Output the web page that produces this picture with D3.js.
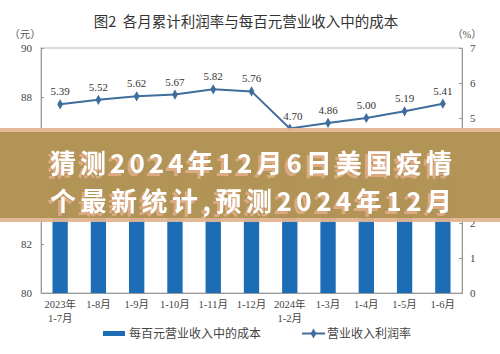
<!DOCTYPE html>
<html>
<head>
<meta charset="utf-8">
<script src="https://cdn.jsdelivr.net/npm/d3@7"></script>
<style>
  body { margin: 0; background: #fff; }
  svg { display: block; }
</style>
</head>
<body>
<div id="chart"></div>
<script>
// categories (two-line labels) and the two series
let categories = ["2023年|1-7月", "1-8月", "1-9月", "1-10月", "1-11月", "1-12月", "2024年|1-2月", "1-3月", "1-4月", "1-5月", "1-6月"]
let costValues = [85.31, 85.26, 85.22, 85.20, 85.18, 84.99, 85.11, 85.41, 85.42, 85.41, 85.31]
let profitRates = [5.39, 5.52, 5.62, 5.67, 5.82, 5.76, 4.70, 4.86, 5.00, 5.19, 5.41]
let leftTicks = [80, 82, 84, 86, 88, 90]
let rightTicks = [0, 1, 2, 3, 4, 5, 6, 7]

let titleText = "图2\u00a0\u00a0各月累计利润率与每百元营业收入中的成本"
let barName = "每百元营业收入中的成本"
let lineName = "营业收入利润率"
let bannerLines = ["猜测2024年12月6日美国疫情", "个最新统计,预测2024年12月"]

let width = 500
let height = 354
let plot = {left: 41, right: 462, top: 48, bottom: 293}

let serif = "'Liberation Serif', 'DejaVu Serif', 'Noto Sans CJK SC', serif"
let cjk = "'Noto Sans CJK SC', sans-serif"
let barColor = "#1c6db5"
let lineColor = "#3f6d9c"

let svg = d3.select("#chart").append("svg")
    .attr("width", width)
    .attr("height", height)

// salmon halo behind the banner text
let defs = svg.append("defs")
let halo = defs.append("filter").attr("id", "halo")
    .attr("x", "-10%").attr("y", "-30%").attr("width", "120%").attr("height", "160%")
halo.append("feDropShadow")
    .attr("dx", -3).attr("dy", 3).attr("stdDeviation", 0.6)
    .attr("flood-color", "#e4ae8a").attr("flood-opacity", 0.85)

let x = d3.scaleBand()
    .domain(categories)
    .range([plot.left, plot.right])
    .paddingInner(0.6)
    .paddingOuter(0.3)

let yLeft = d3.scaleLinear().domain([80, 90]).range([plot.bottom, plot.top])
let yRight = d3.scaleLinear().domain([0, 7]).range([plot.bottom, plot.top])

// title
svg.append("text")
    .attr("x", 246).attr("y", 27)
    .attr("text-anchor", "middle")
    .style("font-family", cjk)
    .style("font-size", "14.5px")
    .attr("fill", "#333")
    .text(titleText)

// unit labels
svg.append("text").attr("x", 25).attr("y", 38).attr("text-anchor", "middle")
    .style("font-family", serif).style("font-size", "10.5px").attr("fill", "#555").text("（元）")
svg.append("text").attr("x", 467).attr("y", 38).attr("text-anchor", "middle")
    .style("font-family", serif).style("font-size", "10.5px").attr("fill", "#555").text("（%）")

// frame
svg.append("rect")
    .attr("x", plot.left).attr("y", plot.top)
    .attr("width", plot.right - plot.left)
    .attr("height", plot.bottom - plot.top)
    .attr("fill", "none")
    .attr("stroke", "#b8b8b8")
    .attr("stroke-width", 1)

// left axis
let leftAxis = svg.append("g")
    .attr("transform", `translate(${plot.left},0)`)
    .call(d3.axisLeft(yLeft).tickValues(leftTicks).tickFormat(d3.format("d")).tickSize(-3).tickPadding(9))
leftAxis.select(".domain").attr("stroke", "#999")
leftAxis.selectAll(".tick line").attr("stroke", "#999")
leftAxis.selectAll("text").style("font-family", serif).style("font-size", "11px").attr("fill", "#444")

// right axis
let rightAxis = svg.append("g")
    .attr("transform", `translate(${plot.right},0)`)
    .call(d3.axisRight(yRight).tickValues(rightTicks).tickFormat(d3.format("d")).tickSize(-3).tickPadding(8))
rightAxis.select(".domain").attr("stroke", "#999")
rightAxis.selectAll(".tick line").attr("stroke", "#999")
rightAxis.selectAll("text").style("font-family", serif).style("font-size", "11px").attr("fill", "#444")

// bottom axis
let bottomAxis = svg.append("g")
    .attr("transform", `translate(0,${plot.bottom})`)
    .call(d3.axisBottom(x).tickSize(0).tickPadding(8))
bottomAxis.select(".domain").attr("stroke", "#999")
bottomAxis.selectAll(".tick text").each(function(d) {
    let parts = d.split("|")
    let t = d3.select(this).text(null)
        .style("font-family", serif).style("font-size", "10.5px").attr("fill", "#444")
    parts.forEach((p, i) => {
        t.append("tspan").attr("x", 0).attr("dy", i === 0 ? "0.71em" : "1.3em").text(p)
    })
})

// bars
svg.append("g").selectAll("rect")
    .data(costValues)
    .join("rect")
    .attr("x", (d, i) => x(categories[i]))
    .attr("width", x.bandwidth())
    .attr("y", d => yLeft(d))
    .attr("height", d => yLeft(80) - yLeft(d))
    .attr("fill", barColor)

// line
let cx = i => x(categories[i]) + x.bandwidth() / 2
let line = d3.line()
    .x((d, i) => cx(i))
    .y(d => yRight(d))

svg.append("path")
    .datum(profitRates)
    .attr("d", line)
    .attr("fill", "none")
    .attr("stroke", lineColor)
    .attr("stroke-width", 2)

let diamond = d3.symbol().type(d3.symbolDiamond).size(30)
svg.append("g").selectAll("path")
    .data(profitRates)
    .join("path")
    .attr("d", diamond)
    .attr("transform", (d, i) => `translate(${cx(i)},${yRight(d)})`)
    .attr("fill", lineColor)

svg.append("g").selectAll("text")
    .data(profitRates)
    .join("text")
    .attr("x", (d, i) => cx(i) + (i === 6 ? 3 : 0))
    .attr("y", d => yRight(d) - 9)
    .attr("text-anchor", "middle")
    .style("font-family", serif)
    .style("font-size", "11px")
    .attr("fill", "#333")
    .text(d => d.toFixed(2))

// legend
let legend = svg.append("g")
legend.append("rect").attr("x", 103).attr("y", 331).attr("width", 22).attr("height", 5).attr("fill", barColor)
legend.append("text").attr("x", 129).attr("y", 338)
    .style("font-family", cjk).style("font-size", "12px").attr("fill", "#444").text(barName)
legend.append("line").attr("x1", 302).attr("x2", 325).attr("y1", 333.5).attr("y2", 333.5)
    .attr("stroke", lineColor).attr("stroke-width", 2)
legend.append("path").attr("d", diamond).attr("transform", "translate(313.5,333.5)").attr("fill", lineColor)
legend.append("text").attr("x", 327).attr("y", 338)
    .style("font-family", cjk).style("font-size", "12px").attr("fill", "#444").text(lineName)

// overlay banner
let banner = svg.append("g")
banner.append("rect")
    .attr("x", 0).attr("y", 128).attr("width", width).attr("height", 94)
    .attr("fill", "#e3b592").attr("opacity", 0.95)
banner.append("rect")
    .attr("x", 0).attr("y", 132).attr("width", width).attr("height", 86)
    .attr("fill", "#ad9050").attr("opacity", 0.9)

bannerLines.forEach((t, i) => {
    banner.append("text")
        .attr("x", 50).attr("y", 173 + i * 38)
        .attr("textLength", 402)
        .attr("filter", "url(#halo)")
        .style("font-family", cjk).style("font-weight", 700).style("font-size", "26px")
        .attr("fill", "#ffffff")
        .text(t)
})
</script>
</body>
</html>
